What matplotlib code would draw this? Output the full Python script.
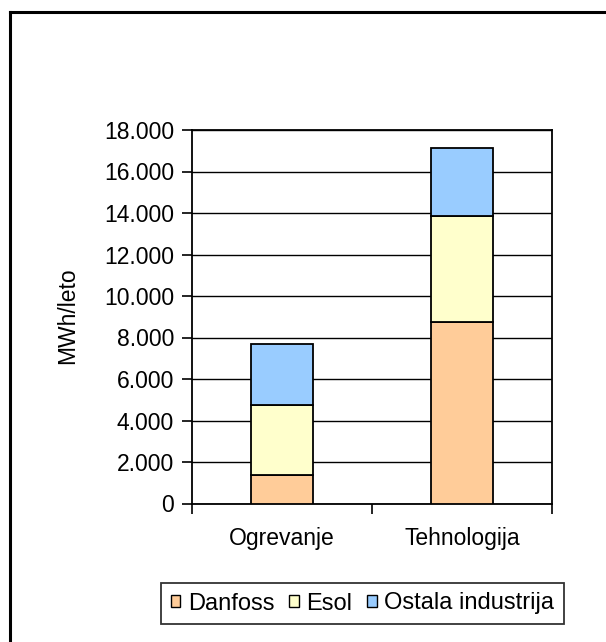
import numpy as np
import matplotlib
matplotlib.use("Agg")
import matplotlib.pyplot as plt
from matplotlib.lines import Line2D
from matplotlib.ticker import FuncFormatter, FixedLocator

plt.rcParams['font.family'] = ['Liberation Sans', 'DejaVu Sans']

# --- Data (MWh/leto) ---
categories = ["Ogrevanje", "Tehnologija"]
series_names = ["Danfoss", "Esol", "Ostala industrija"]
danfoss = [1380, 8740]
esol = [3360, 5110]
ostala = [2960, 3300]
y_ticks = [0, 2000, 4000, 6000, 8000, 10000, 12000, 14000, 16000, 18000]

colors = ["#FFCC99", "#FFFFCC", "#99CCFF"]
FS = 16.5

fig = plt.figure(figsize=(6.06, 6.42), dpi=100)
ax = fig.add_axes([192 / 606, 1 - 503.5 / 642, 360 / 606, 373.5 / 642])

x = np.arange(len(categories))
bottom = np.zeros(len(categories))
for name, vals, col in zip(series_names, [danfoss, esol, ostala], colors):
    ax.bar(x, vals, width=0.34, bottom=bottom, color=col, edgecolor="black",
           linewidth=1.3, label=name, zorder=3)
    bottom += np.array(vals)

# --- Axes styling ---
ax.set_xlim(-0.5, 1.5)
ax.set_ylim(0, 18000)
ax.set_yticks(y_ticks)
ax.yaxis.set_major_formatter(FuncFormatter(lambda v, p: f"{int(v):,}".replace(",", ".")))
ax.grid(axis="y", color="black", linewidth=1.0, zorder=0)
ax.tick_params(axis="y", direction="out", length=7, width=1.2, pad=6,
               labelsize=FS, colors="black")

# category boundaries get the tick marks, labels sit in between
ax.xaxis.set_major_locator(FixedLocator([-0.5, 0.5, 1.5]))
ax.xaxis.set_minor_locator(FixedLocator(x))
ax.set_xticklabels([])
ax.set_xticklabels(categories, minor=True)
ax.tick_params(axis="x", which="major", direction="out", length=7, width=1.2)
ax.tick_params(axis="x", which="minor", length=0, pad=17, labelsize=FS)

for side in ["left", "bottom", "top", "right"]:
    ax.spines[side].set_color("black")
    ax.spines[side].set_linewidth(1.3)

fig.text(68 / 606, 1 - 316 / 642, "MWh/leto", rotation=90, ha="center",
         va="center", fontsize=FS)

leg = fig.legend(loc="center", bbox_to_anchor=((163 + 562) / 2 / 606, 1 - (583 + 624) / 2 / 642),
                 ncol=3, fontsize=FS + 0.5, frameon=True, fancybox=False, shadow=False,
                 handlelength=0.42, handleheight=0.42, handletextpad=0.33,
                 columnspacing=0.6, borderpad=0.4, borderaxespad=0)
leg.get_frame().set_edgecolor("black")
leg.get_frame().set_linewidth(1.3)
for h in leg.legend_handles:
    h.set_linewidth(1.0)

# outer chart frame (left and top edges)
fig.add_artist(Line2D([10 / 606, 10 / 606], [1 - 12 / 642, 0], color="black",
                      linewidth=2.2, transform=fig.transFigure))
fig.add_artist(Line2D([10 / 606, 1], [1 - 12 / 642, 1 - 12 / 642], color="black",
                      linewidth=2.2, transform=fig.transFigure))

fig.savefig("out.png", dpi=100)
